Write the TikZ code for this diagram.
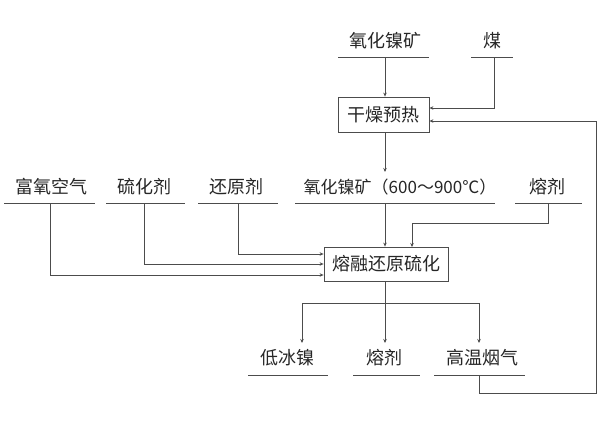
\documentclass[tikz,border=0pt]{standalone}
\usepackage{fontspec}
\newfontfamily\cjk{Noto Sans CJK SC}
\usetikzlibrary{arrows.meta}
\begin{document}
\begin{tikzpicture}[x=1pt,y=-1pt,
  lbl/.style={font=\cjk\fontsize{18}{18}\selectfont, text=black!85, inner sep=0pt},
  boxn/.style={draw=black!70, line width=0.8pt, font=\cjk\fontsize{18}{18}\selectfont, text=black!85, inner sep=0pt},
  uline/.style={draw=black!70, line width=0.8pt},
  conn/.style={draw=black!70, line width=0.8pt},
  arr/.style={conn, -{Stealth[length=4pt,width=3.5pt]}}]
\useasboundingbox (0,0) rectangle (600,424);
% top row
\node[lbl] (ore) at (385,41) {氧化镍矿};
\draw[uline] (338,57) -- (429,57);
\coordinate (oreu) at (385,57);
\node[lbl] (coal) at (492,41) {煤};
\draw[uline] (471,57) -- (513,57);
\coordinate (coalu) at (494,57);
% box 1
\node[boxn, minimum width=91pt, minimum height=35pt] (dry) at (383.5,114.5) {干燥预热};
% middle row
\node[lbl] (air) at (51,187) {富氧空气};
\draw[uline] (4,203) -- (95,203);
\coordinate (airu) at (50,203);
\node[lbl] (sulf) at (144,187) {硫化剂};
\draw[uline] (106,203) -- (185,203);
\coordinate (sulfu) at (144,203);
\node[lbl] (red) at (236,187) {还原剂};
\draw[uline] (198,203) -- (278,203);
\coordinate (redu) at (238,203);
\node[lbl, font=\cjk\fontsize{17}{17}\selectfont] (hot) at (400,187) {氧化镍矿（600～900℃）};
\draw[uline] (295,203) -- (495,203);
\coordinate (hotu) at (385,203);
\node[lbl] (flux1) at (547,187) {熔剂};
\draw[uline] (515,203) -- (582,203);
\coordinate (flux1u) at (548,203);
% box 2
\node[boxn, minimum width=124pt, minimum height=34pt] (smelt) at (386,264) {熔融还原硫化};
% bottom row
\node[lbl] (matte) at (287,358) {低冰镍};
\draw[uline] (248,375) -- (328,375);
\node[lbl] (flux2) at (384,358) {熔剂};
\draw[uline] (353,375) -- (420,375);
\node[lbl] (gas) at (482,358) {高温烟气};
\draw[uline] (434,375) -- (525,375);
\coordinate (gasu) at (479,375);
\coordinate (mattetop) at (302,343);
\coordinate (flux2top) at (385,343);
\coordinate (gastop) at (479,343);
% connectors
\draw[arr] (oreu) -- (oreu |- dry.north);
\draw[arr] (coalu) -- (494,108) -- (dry.east |- 0,108);
\draw[arr] (dry.south -| 385,0) -- (385,172);
\draw[arr] (hotu) -- (hotu |- smelt.north);
\draw[arr] (flux1u) -- (548,223) -- (412,223) -- (412,247);
\draw[arr] (airu) -- (50,275) -- (smelt.west |- 0,275);
\draw[arr] (sulfu) -- (144,264) -- (smelt.west |- 0,264);
\draw[arr] (redu) -- (238,254) -- (smelt.west |- 0,254);
\draw[arr] (smelt.south -| 385,0) -- (flux2top);
\draw[arr] (385,303) -- (302,303) -- (mattetop);
\draw[arr] (385,303) -- (479,303) -- (gastop);
\draw[arr] (gasu) -- (479,393) -- (596,393) -- (596,121) -- (dry.east |- 0,121);
\end{tikzpicture}
\end{document}
